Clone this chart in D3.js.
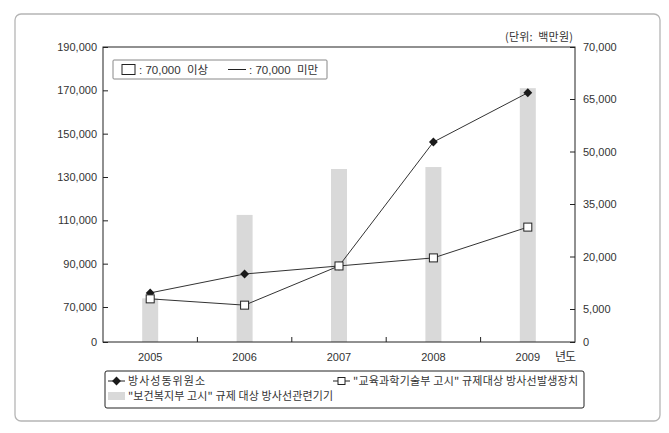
<!DOCTYPE html>
<html>
<head>
<meta charset="utf-8">
<script src="https://cdn.jsdelivr.net/npm/d3@7"></script>
<style>
  body { margin: 0; background: #fff; }
  svg text { fill: #333; }
  .num { font-family: "Liberation Sans", Arial, sans-serif; font-size: 11px; }
  .kr { font-family: "Noto Sans CJK KR", sans-serif; font-size: 11px; }
  .mix { font-family: "Liberation Sans", "Noto Sans CJK KR", sans-serif; font-size: 11.5px; }
</style>
</head>
<body>
<div id="chart"></div>
<script>
// DATA
const years = ["2005", "2006", "2007", "2008", "2009"]
const devices = [74000, 112500, 133700, 134600, 171000]   // bars, left axis
const isotopes = [9600, 15000, 17300, 52700, 65600]      // diamonds, right axis
const generators = [7900, 6100, 17300, 19600, 28400]     // squares, right axis
const left_ticks = [0, 70000, 90000, 110000, 130000, 150000, 170000, 190000]
const right_ticks = [0, 5000, 20000, 35000, 50000, 65000, 70000]

const W = 669, H = 433
const plot = {x0: 103, x1: 575, y0: 47, y1: 342}

const svg = d3.select("div#chart").append("svg")
  .attr("width", W).attr("height", H)

// outer frame
svg.append("rect")
  .attr("x", 15).attr("y", 14).attr("width", 645).attr("height", 407)
  .attr("rx", 6)
  .attr("fill", "none").attr("stroke", "#b5b5b5").attr("stroke-width", 1.3)

// scales (both value axes are broken near the bottom)
const x = d3.scaleBand().domain(years).range([plot.x0, plot.x1]).padding(0)
const y_left = d3.scaleLinear().domain([0, 70000, 190000]).range([plot.y1, 307, plot.y0])
const y_right = d3.scaleLinear().domain([0, 5000, 65000, 70000]).range([plot.y1, 309, 99, plot.y0])
const cx = d => x(d) + x.bandwidth() / 2

// bars
svg.append("g").selectAll("rect")
  .data(years)
  .join("rect")
    .attr("x", d => cx(d) - 8)
    .attr("width", 16)
    .attr("y", (d, i) => y_left(devices[i]))
    .attr("height", (d, i) => plot.y1 - y_left(devices[i]))
    .attr("fill", "#d9d9d9")

// plot frame
svg.append("rect")
  .attr("x", plot.x0).attr("y", plot.y0)
  .attr("width", plot.x1 - plot.x0).attr("height", plot.y1 - plot.y0)
  .attr("fill", "none").attr("stroke", "#222").attr("stroke-width", 1)

// axes
const fmt = d3.format(",")
const g_left = svg.append("g")
  .attr("transform", `translate(${plot.x0},0)`)
  .call(d3.axisLeft(y_left).tickValues(left_ticks).tickFormat(fmt).tickSizeInner(-5).tickSizeOuter(0).tickPadding(6))
const g_right = svg.append("g")
  .attr("transform", `translate(${plot.x1},0)`)
  .call(d3.axisRight(y_right).tickValues(right_ticks).tickFormat(fmt).tickSizeInner(-5).tickSizeOuter(0).tickPadding(8))
for (const g of [g_left, g_right]) {
  g.select(".domain").remove()
  g.selectAll("line").attr("stroke", "#222")
  g.selectAll("text").attr("class", "num").attr("font-family", null).attr("font-size", null)
}

// x axis: labels under centres, ticks on category borders
svg.append("g").selectAll("text")
  .data(years)
  .join("text")
    .attr("class", "num")
    .attr("x", cx).attr("y", 361)
    .attr("text-anchor", "middle")
    .text(d => d)
svg.append("g").selectAll("line")
  .data(years.slice(1))
  .join("line")
    .attr("x1", d => x(d)).attr("x2", d => x(d))
    .attr("y1", plot.y1).attr("y2", plot.y1 - 5)
    .attr("stroke", "#222")

// text helper: Korean labels in the source are set wide
function label(x0, y0, str, len, cls) {
  const t = svg.append("text").attr("class", cls || "kr").attr("x", x0).attr("y", y0)
    .attr("xml:space", "preserve").text(str)
  if (len) t.attr("textLength", len).attr("lengthAdjust", "spacing")
  return t
}

label(555, 361, "년도", 21).style("font-size", "12px")
label(505, 41, "(단위:  백만원)", 68)

// lines
const line = (vals) => d3.line().x((d, i) => cx(years[i])).y(d => y_right(d))(vals)
svg.append("path").attr("d", line(generators))
  .attr("fill", "none").attr("stroke", "#333").attr("stroke-width", 1)
svg.append("path").attr("d", line(isotopes))
  .attr("fill", "none").attr("stroke", "#333").attr("stroke-width", 1)

const diamond = d3.symbol().type(d3.symbolDiamond2).size(50)
svg.append("g").selectAll("path")
  .data(isotopes)
  .join("path")
    .attr("d", diamond)
    .attr("transform", (d, i) => `translate(${cx(years[i])},${y_right(d)})`)
    .attr("fill", "#1a1a1a")
svg.append("g").selectAll("rect")
  .data(generators)
  .join("rect")
    .attr("x", (d, i) => cx(years[i]) - 4).attr("y", d => y_right(d) - 4)
    .attr("width", 8).attr("height", 8)
    .attr("fill", "#fff").attr("stroke", "#222")

// ------ LEGEND IN PLOT ------
svg.append("rect")
  .attr("x", 113).attr("y", 60).attr("width", 214).attr("height", 19)
  .attr("fill", "#fff").attr("stroke", "#888").attr("rx", 1)
svg.append("rect")
  .attr("x", 122).attr("y", 64.5).attr("width", 13).attr("height", 10)
  .attr("fill", "#fff").attr("stroke", "#222")
label(139, 73.5, ": 70,000  이상", null, "mix")
svg.append("line")
  .attr("x1", 228).attr("x2", 246).attr("y1", 69.5).attr("y2", 69.5).attr("stroke", "#222")
label(249, 73.5, ": 70,000  미만", null, "mix")

// ------ LEGEND BELOW ------
svg.append("rect")
  .attr("x", 105).attr("y", 371).attr("width", 479).attr("height", 37)
  .attr("rx", 2).attr("fill", "#fff").attr("stroke", "#222")

svg.append("line").attr("x1", 108).attr("x2", 125).attr("y1", 381).attr("y2", 381).attr("stroke", "#222")
svg.append("path").attr("d", diamond).attr("transform", "translate(116.5,381)").attr("fill", "#1a1a1a")
label(128, 385, "방사성동위원소", 77)

svg.append("line").attr("x1", 333).attr("x2", 350).attr("y1", 381).attr("y2", 381).attr("stroke", "#222")
svg.append("rect").attr("x", 338).attr("y", 377.5).attr("width", 7).attr("height", 7)
  .attr("fill", "#fff").attr("stroke", "#222")
label(353, 385, "\"교육과학기술부 고시\" 규제대상 방사선발생장치", 225)

svg.append("rect").attr("x", 108).attr("y", 392).attr("width", 17).attr("height", 8).attr("fill", "#d9d9d9")
label(128, 400, "\"보건복지부 고시\" 규제 대상 방사선관련기기", 205)
</script>
</body>
</html>
